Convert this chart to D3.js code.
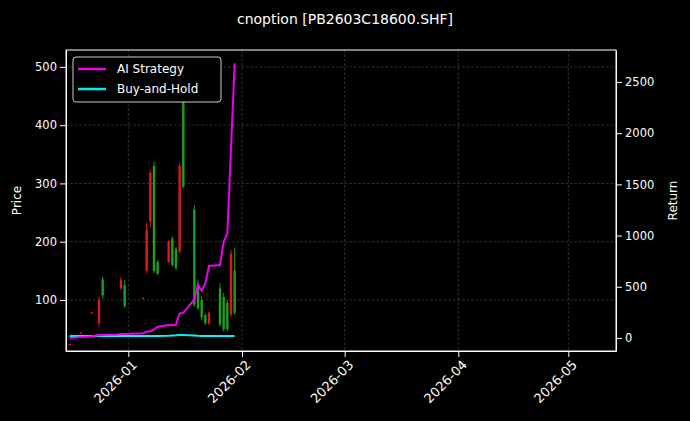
<!DOCTYPE html>
<html><head><meta charset="utf-8">
<script src="https://cdn.jsdelivr.net/npm/d3@7"></script>
<style>body{margin:0;background:#000}svg{display:block}text{font-family:"DejaVu Sans",sans-serif}</style>
</head><body><svg id="c" width="690" height="421"></svg>
<script>
// candles: date, open, high, low, close
var candleDates = ['2025-12-16','2025-12-19','2025-12-22','2025-12-24','2025-12-25','2025-12-30','2025-12-31','2026-01-05','2026-01-06','2026-01-07','2026-01-08','2026-01-09','2026-01-12','2026-01-13','2026-01-14','2026-01-15','2026-01-16','2026-01-19','2026-01-20','2026-01-21','2026-01-22','2026-01-23','2026-01-26','2026-01-27','2026-01-28','2026-01-29','2026-01-30'];
var opens  = [24,44,79,100,108,135,90,104,220,318,150,145,200,160,155,330,295,92,86,70,60,78,58,50,50,180,78];
var highs  = [25,45,80,106,140,140,134,105,232,323,337,169,203,209,191,335,455,263,134,106,77,80,129,112,100,186,190];
var lows   = [22,42,77,54,103,117,86,102,146,225,146,143,163,157,151,180,292,88,83,66,57,57,54,46,46,71,74];
var closes = [23,43,78,60,135,120,125,103,150,235,330,165,165,205,188,183,440,255,128,100,74,60,120,105,95,75,150];

var lineDates = ['2025-12-16','2025-12-17','2025-12-18','2025-12-19','2025-12-22','2025-12-23','2025-12-24','2025-12-25','2025-12-26','2025-12-29','2025-12-30','2025-12-31','2026-01-05','2026-01-06','2026-01-07','2026-01-08','2026-01-09','2026-01-12','2026-01-13','2026-01-14','2026-01-15','2026-01-16','2026-01-19','2026-01-20','2026-01-21','2026-01-22','2026-01-23','2026-01-26','2026-01-27','2026-01-28','2026-01-29','2026-01-30'];
var aiReturn = [0,2,5,10,15,25,29,30,32,34,38,40,46,62,65,85,110,127,128,130,241,245,378,518,462,534,703,713,940,1022,1850,2682];
var bhReturn = [20,20,20,20,20,20,20,20,20,20,20,20,20,20,20,20,20,22,24,26,30,30,25,22,20,20,20,20,20,20,20,20];

var priceTicks = [100,200,300,400,500];
var returnTicks = [0,500,1000,1500,2000,2500];
var dateTicks = ['2026-01-01','2026-02-01','2026-03-01','2026-04-01','2026-05-01'];

var parse = d3.utcParse('%Y-%m-%d');
var L = 66, R = 616, T = 50, B = 351;
var svg = d3.select('#c');
svg.append('rect').attr('width',690).attr('height',421).attr('fill','#000');

var x = d3.scaleUtc().domain([parse('2025-12-15'), parse('2026-05-14')]).range([L,R]);
var yP = d3.scaleLinear().domain([12.4,529]).range([B,T]);
var yR = d3.scaleLinear().domain([-127,2812]).range([B,T]);

// grid
var grid = svg.append('g').attr('stroke','#555').attr('stroke-width',0.6).attr('stroke-dasharray','2.5,2');
dateTicks.forEach(d => grid.append('line').attr('x1',x(parse(d))).attr('x2',x(parse(d))).attr('y1',T).attr('y2',B));
priceTicks.forEach(v => grid.append('line').attr('x1',L).attr('x2',R).attr('y1',yP(v)).attr('y2',yP(v)));

// candles
var cg = svg.append('g');
candleDates.forEach((d,i) => {
  var cx = x(parse(d)), col = closes[i] >= opens[i] ? '#1f9e1f' : '#e0161a';
  cg.append('line').attr('x1',cx).attr('x2',cx).attr('y1',yP(highs[i])).attr('y2',yP(lows[i])).attr('stroke',col).attr('stroke-width',1);
  var y1 = yP(Math.max(opens[i],closes[i])), y2 = yP(Math.min(opens[i],closes[i]));
  cg.append('rect').attr('x',cx-1.2).attr('width',2.4).attr('y',y1).attr('height',Math.max(1,y2-y1)).attr('fill',col);
});

// lines
var ln = d3.line().x(d => x(d[0])).y(d => yR(d[1]));
var ld = lineDates.map(parse);
svg.append('path').datum(ld.map((d,i) => [d,bhReturn[i]])).attr('d',ln).attr('fill','none').attr('stroke','#00f0f0').attr('stroke-width',2);
svg.append('path').datum(ld.map((d,i) => [d,aiReturn[i]])).attr('d',ln).attr('fill','none').attr('stroke','#ee00ee').attr('stroke-width',2);

// axes
function style(g){ g.selectAll('path').attr('stroke','#fff'); g.selectAll('line').attr('stroke','#fff'); g.selectAll('text').attr('fill','#fff').attr('font-size','11.5px'); }
svg.append('g').attr('transform','translate(0,'+B+')')
  .call(d3.axisBottom(x).tickValues(dateTicks.map(parse)).tickFormat(d3.utcFormat('%Y-%m')).tickSizeOuter(0))
  .call(style).selectAll('text').attr('font-size','13px').attr('text-anchor','end').attr('transform','rotate(-45)').attr('dx','-0.3em').attr('dy','0.6em');
svg.append('g').attr('transform','translate('+L+',0)').call(d3.axisLeft(yP).tickValues(priceTicks).tickSizeOuter(0)).call(style);
svg.append('g').attr('transform','translate('+R+',0)').call(d3.axisRight(yR).tickValues(returnTicks).tickFormat(d3.format('d')).tickSizeOuter(0)).call(style);
svg.append('rect').attr('x',L).attr('y',T).attr('width',R-L).attr('height',B-T).attr('fill','none').attr('stroke','#fff');

svg.append('text').attr('x',345).attr('y',24).attr('text-anchor','middle').attr('fill','#fff').attr('font-size','14px').text('cnoption [PB2603C18600.SHF]');
svg.append('text').attr('transform','translate(21,'+((T+B)/2)+') rotate(-90)').attr('text-anchor','middle').attr('fill','#fff').attr('font-size','12px').text('Price');
svg.append('text').attr('transform','translate(677,'+((T+B)/2)+') rotate(-90)').attr('text-anchor','middle').attr('fill','#fff').attr('font-size','12px').text('Return');

// legend
var lg = svg.append('g').attr('transform','translate(73,57)');
lg.append('rect').attr('width',148).attr('height',45).attr('rx',3).attr('fill','#000').attr('stroke','#ccc');
[['AI Strategy','#ee00ee'],['Buy-and-Hold','#00f0f0']].forEach((e,i) => {
  lg.append('line').attr('x1',5).attr('x2',33).attr('y1',12+i*20).attr('y2',12+i*20).attr('stroke',e[1]).attr('stroke-width',2.5);
  lg.append('text').attr('x',44).attr('y',16+i*20).attr('fill','#fff').attr('font-size','12px').text(e[0]);
});
</script></body></html>
